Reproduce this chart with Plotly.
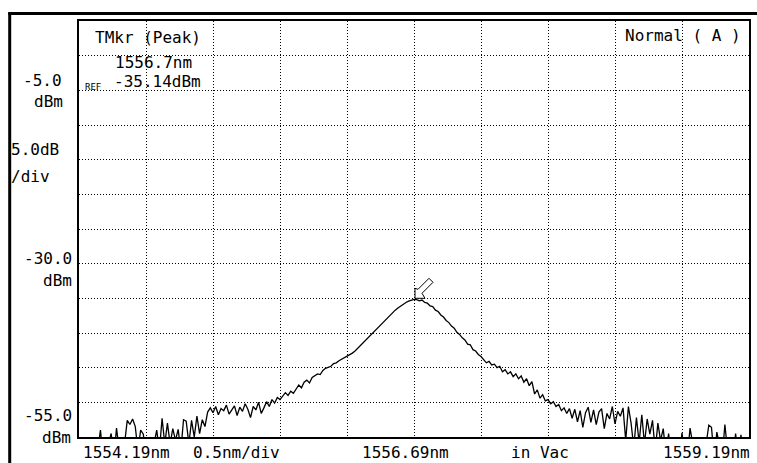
import numpy as np
import plotly.graph_objects as go

# ---------------- data ----------------
wl_start = 1554.19      # nm
wl_step = 0.02          # nm per sample
level_dbm = [
    # 0..49  noise floor with spikes
    -58, -58, -58, -58, -58, -58, -58, -57, -54.0, -58,
    -58, -56, -54.5, -58, -53.7, -57, -58, -56, -52.6, -53.2,
    -52.4, -53.5, -57, -54.0, -54.6, -58, -58, -58, -56, -54.0,
    -57, -52.3, -56, -53.0, -56, -53.8, -55.5, -53.9, -57, -52.5,
    -52.7, -56, -52.6, -55, -52.0, -54.5, -52.5, -53.5, -51.4, -50.8,
    # 50..75
    -51.5, -50.6, -51.8, -50.9, -51.2, -50.4, -51.7, -51.0, -50.5, -51.9,
    -50.7, -51.3, -50.2, -51.0, -52.2, -50.6, -51.1, -50.0, -51.6, -50.8,
    -49.9, -50.6, -49.6, -50.1, -49.3, -49.6,
    # 76..101
    -49.1, -48.6, -49.0, -48.4, -48.7, -48.0, -47.5, -47.9, -47.1, -46.8,
    -47.2, -46.4, -46.1, -45.9, -46.0, -45.4, -45.1, -44.9, -44.8, -44.4,
    -44.3, -44.0, -43.8, -43.6, -43.4, -43.2,
    # 102..125 rising edge to peak
    -42.9, -42.6, -42.2, -41.9, -41.4, -41.0, -40.6, -40.2, -39.8, -39.4,
    -39.1, -38.7, -38.3, -37.9, -37.4, -37.0, -36.7, -36.4, -36.1, -35.9,
    -35.6, -35.4, -35.25, -35.14,
    # 126..150 falling edge
    -35.2, -35.35, -35.25, -35.6, -35.7, -36.1, -36.2, -36.7, -36.9, -37.4,
    -37.7, -38.2, -38.5, -39.0, -39.3, -39.9, -40.2, -40.7, -41.0, -41.6,
    -41.7, -42.4, -42.6, -43.1, -43.4,
    # 151..180
    -43.8, -44.3, -44.1, -44.6, -44.5, -45.0, -44.8, -45.6, -45.3, -45.9,
    -45.6, -46.3, -45.9, -46.6, -46.2, -47.1, -46.6, -47.6, -47.0, -48.8,
    -48.2, -49.4, -48.9, -49.8, -49.6, -50.2, -49.9, -50.6, -50.3, -51.2,
    # 181..220
    -50.8, -51.6, -50.9, -52.3, -51.0, -52.8, -51.2, -53.6, -51.5, -50.7,
    -52.9, -51.1, -53.2, -51.4, -50.9, -53.8, -51.6, -52.4, -50.6, -53.1,
    -51.3, -52.0, -50.8, -55.5, -50.6, -53.0, -56.5, -52.2, -55.8, -51.8,
    -56.0, -52.4, -54.6, -52.6, -57.0, -53.0, -55.5, -53.8, -57.5, -54.5,
    # 221..250 noise floor with sparse spikes
    -58, -56.5, -58, -58, -54.4, -58, -58, -53.7, -56, -58,
    -58, -58, -58, -56, -53.3, -53.6, -58, -54.3, -56, -58,
    -53.2, -57, -58, -58, -54.5, -58, -54.7, -58, -58, -58,
]
wavelength = wl_start + wl_step * np.arange(len(level_dbm))

x_range = [1554.19, 1559.19]
x_div = 0.5
y_range = [-55.0, 5.0]
y_div = 5.0

bottom_labels = ["1554.19nm", "0.5nm/div", "1556.69nm", "in Vac", "1559.19nm"]
left_labels = ["-5.0", "dBm", "5.0dB", "/div", "-30.0", "dBm", "-55.0", "dBm"]
marker_labels = ["TMkr (Peak)", "1556.7nm", "-35.14dBm"]
mode_label = "Normal ( A )"

# ---------------- figure ----------------
W, H = 757, 463
L, R, T, B = 79, 751, 21, 437


def pxx(x):
    return (x - L) / (R - L)


def pxy(y):
    return (B - y) / (B - T)


FONT = "DejaVu Sans Mono, Liberation Mono, monospace"

fig = go.Figure()
fig.add_trace(go.Scatter(
    x=wavelength, y=level_dbm, mode="lines",
    line=dict(color="black", width=1.3),
    hoverinfo="skip", showlegend=False,
))

ann = []


def txt(s, x, y, xa="center", size=16):
    ann.append(dict(text=s, x=pxx(x), y=pxy(y), xref="paper", yref="paper",
                    xanchor=xa, yanchor="middle", showarrow=False,
                    font=dict(family=FONT, size=size, color="black")))


# marker block
txt(marker_labels[0], 148, 38)
txt(marker_labels[1], 154, 63)
txt(marker_labels[2], 158, 81)
txt("REF", 93, 87, size=9)
txt(mode_label, 685, 35)

# left labels
left_pos = [(64, 80, "right"), (65, 102, "right"), (9, 149, "left"), (9, 176, "left"),
            (74, 258, "right"), (74, 280, "right"), (74, 415, "right"), (73, 437, "right")]
for s, (x, y, xa) in zip(left_labels, left_pos):
    txt(s, x, y, xa)

# bottom labels
bottom_pos = [(81, "left"), (237, "center"), (406, "center"), (541, "center"), (754, "right")]
for s, (x, xa) in zip(bottom_labels, bottom_pos):
    txt(s, x, 452, xa)

# peak marker arrow (hollow), anchored at the trace maximum
ipk = int(np.argmax(level_dbm))
shapes = [
    dict(type="path", xref="x", yref="y", xsizemode="pixel", ysizemode="pixel",
         xanchor=float(wavelength[ipk]), yanchor=float(level_dbm[ipk]),
         path="M 1 1 L 1 11 L 4 10 L 15 21 L 19 17 L 8 6 L 11 1 Z",
         line=dict(color="black", width=1), fillcolor="white", layer="above"),
    # outer instrument frame (left and top edges)
    dict(type="line", xref="paper", yref="paper",
         x0=pxx(9.5), x1=pxx(9.5), y0=pxy(470), y1=pxy(12.5),
         line=dict(color="black", width=3)),
    dict(type="line", xref="paper", yref="paper",
         x0=pxx(8), x1=pxx(770), y0=pxy(13.5), y1=pxy(13.5),
         line=dict(color="black", width=3)),
]

axis_common = dict(
    showline=True, mirror=True, linecolor="black", linewidth=2,
    showgrid=True, gridcolor="black", gridwidth=1, griddash="1px,2px",
    showticklabels=False, ticks="", zeroline=False,
)
fig.update_layout(
    width=W, height=H,
    margin=dict(l=L, r=W - R, t=T, b=H - B, pad=0),
    paper_bgcolor="white", plot_bgcolor="white",
    xaxis=dict(range=x_range, tick0=x_range[0], dtick=x_div, **axis_common),
    yaxis=dict(range=y_range, tick0=y_range[0], dtick=y_div, **axis_common),
    annotations=ann, shapes=shapes, showlegend=False,
)
fig.write_html("out.html")
